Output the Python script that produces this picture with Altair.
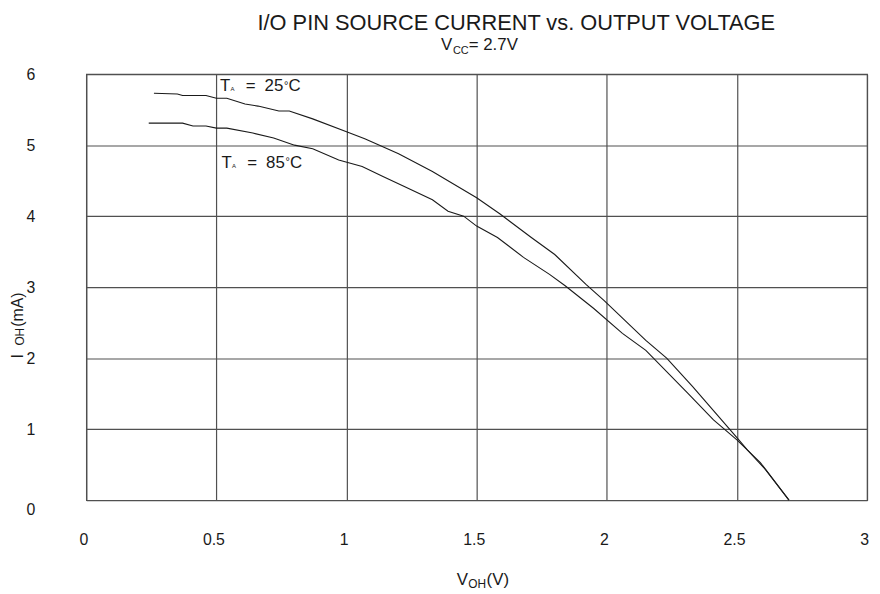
import altair as alt
import pandas as pd

# ---- data ----
v_25 = [0.26, 0.35, 0.37, 0.46, 0.50, 0.54, 0.61, 0.66, 0.74, 0.78, 0.87, 1.00,
        1.07, 1.12, 1.20, 1.33, 1.50, 1.59, 1.71, 1.80, 1.92, 1.99, 2.15, 2.23,
        2.33, 2.50, 2.54, 2.61, 2.70]
i_25 = [5.73, 5.72, 5.70, 5.70, 5.66, 5.66, 5.58, 5.55, 5.48, 5.48, 5.37, 5.19,
        5.09, 5.01, 4.88, 4.63, 4.26, 4.03, 3.70, 3.46, 3.04, 2.81, 2.25, 2.00,
        1.60, 0.88, 0.71, 0.43, 0.00]
v_85 = [0.24, 0.37, 0.41, 0.46, 0.50, 0.54, 0.64, 0.72, 0.80, 0.87, 0.97, 1.06,
        1.14, 1.22, 1.33, 1.39, 1.45, 1.50, 1.58, 1.68, 1.78, 1.84, 1.95, 2.06,
        2.15, 2.31, 2.41, 2.50, 2.59, 2.70]
i_85 = [5.31, 5.31, 5.27, 5.27, 5.24, 5.24, 5.17, 5.10, 5.00, 4.95, 4.79, 4.70,
        4.56, 4.42, 4.23, 4.07, 4.00, 3.86, 3.70, 3.42, 3.18, 3.02, 2.70, 2.35,
        2.11, 1.51, 1.13, 0.85, 0.53, 0.00]
series = ["25", "85"]
x_ticks = [0, 0.5, 1, 1.5, 2, 2.5, 3]
y_ticks = [0, 1, 2, 3, 4, 5, 6]

title_text = "I/O PIN SOURCE CURRENT vs. OUTPUT VOLTAGE"

df = pd.concat([
    pd.DataFrame({"V": v_25, "I": i_25, "s": series[0]}),
    pd.DataFrame({"V": v_85, "I": i_85, "s": series[1]}),
])

FONT = "Liberation Sans"
INK = "#1a1a1a"
GRID = "#505050"
W, H = 788, 430

lines = alt.Chart(df).mark_line(color=INK, strokeWidth=1.1).encode(
    x=alt.X("V:Q", scale=alt.Scale(domain=[0, 3], nice=False),
            axis=alt.Axis(values=x_ticks, labelExpr="datum.value", title=None,
                          grid=True, ticks=False, domain=False,
                          labelAlign="center", labelPadding=32, labelFontSize=16,
                          labelOffset=-3)),
    y=alt.Y("I:Q", scale=alt.Scale(domain=[0, 6], nice=False),
            axis=alt.Axis(values=y_ticks, title=None, grid=True, ticks=False,
                          domain=False, labelPadding=52, labelFontSize=16,
                          labelOffset={"condition": {"test": "datum.value === 0", "value": 9},
                                       "value": 0})),
    detail="s:N",
)


def txt(s, x, y, size, angle=0, align="left", baseline="alphabetic"):
    return alt.Chart(pd.DataFrame({"t": [s]})).mark_text(
        x=x, y=y, fontSize=size, font=FONT, color=INK, align=align,
        baseline=baseline, angle=angle).encode(text="t:N")


def t_label(x0, y0, temp):
    return [
        txt("T", x0, y0, 17),
        txt("A", x0 + 10.6, y0, 6),
        txt("=", x0 + 26, y0, 17),
        txt(temp, x0 + 45, y0, 17),
        txt("°", x0 + 64.5, y0 - 3, 11),
        txt("C", x0 + 69, y0, 17),
    ]


texts = [
    # title
    txt(title_text, 434, -44.3, 22, align="center"),
    # subtitle V_CC = 2.7V
    txt("V", 358, -24.7, 17),
    txt("CC", 370, -20.3, 11),
    txt("= 2.7V", 386, -24.7, 17),
    # x title V_OH(V)
    txt("V", 374, 516, 17),
    txt("OH", 385.5, 519, 12),
    txt("(V)", 404, 516, 17),
    # y title I_OH(mA)
    txt("I", -64, 287, 16, angle=270),
    txt("OH", -63, 274, 12, angle=270),
    txt("(mA)", -64, 255, 16, angle=270),
]
texts += t_label(135, 17.5, "25")
texts += t_label(136.5, 95, "85")

chart = alt.layer(lines, *texts).properties(
    width=W, height=H, autosize="none",
    padding={"left": 79, "top": 64, "right": 5, "bottom": 100},
).configure_view(stroke=GRID, strokeWidth=1.2).configure_axis(
    gridColor=GRID, gridOpacity=1, gridWidth=1.2,
    labelFont=FONT, labelColor=INK,
)

chart.save("out.html", embed_options={"renderer": "svg", "actions": False})
